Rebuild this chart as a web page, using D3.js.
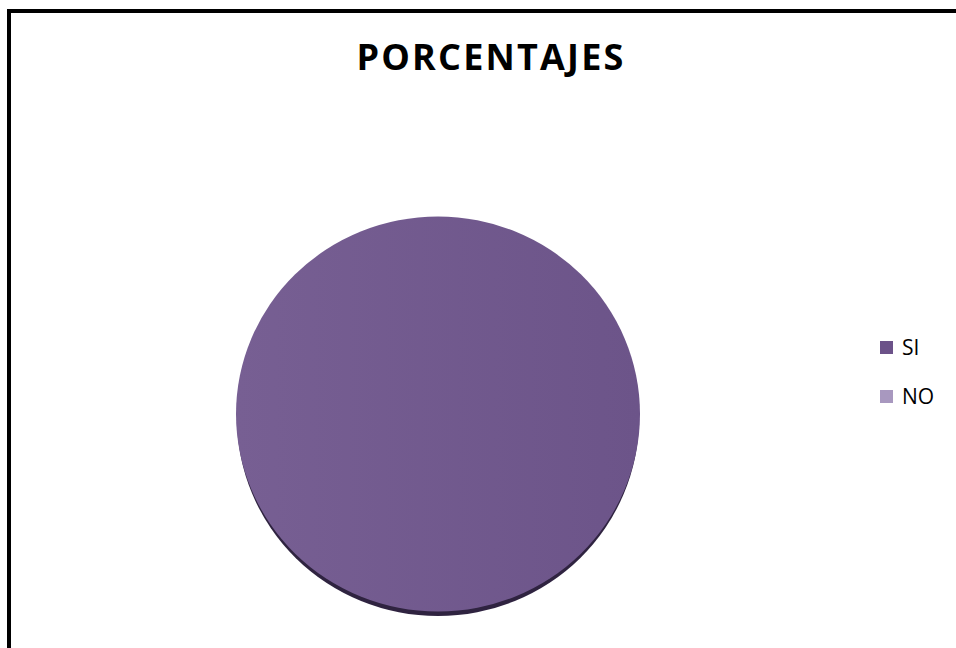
<!DOCTYPE html>
<html>
<head>
<meta charset="utf-8">
<script src="https://cdn.jsdelivr.net/npm/d3@7"></script>
<style>
html,body{margin:0;padding:0;background:#fff;overflow:hidden;}
svg{display:block;}
</style>
</head>
<body>
<svg id="chart" width="956" height="648"></svg>
<script>
const title = "PORCENTAJES";
const categories = ["SI", "NO"];
const values = [100, 0];
const colors = ["#735b8f", "#a898bf"];
const legendColors = ["#6c5289", "#a898bf"];

const svg = d3.select("#chart");
const FONT = "'Open Sans', Lato, sans-serif";

// outer border
svg.append("rect").attr("x", 9).attr("y", 11).attr("width", 1000).attr("height", 700)
  .attr("fill", "#fff").attr("stroke", "#000").attr("stroke-width", 4);

// title
svg.append("text").attr("x", 491).attr("y", 70)
  .attr("text-anchor", "middle")
  .style("font-family", FONT)
  .style("font-weight", "bold").style("font-size", "36px")
  .style("letter-spacing", "2.2px").attr("fill", "#000")
  .text(title);

// pie
const cx = 438, cy = 414, rx = 202, ry = 197.5;
const defs = svg.append("defs");
const grad = defs.append("linearGradient").attr("id", "pg")
  .attr("gradientUnits", "userSpaceOnUse")
  .attr("x1", -1).attr("x2", 1).attr("y1", 0).attr("y2", 0);
grad.append("stop").attr("offset", "0%").attr("stop-color", "#775f93");
grad.append("stop").attr("offset", "100%").attr("stop-color", "#6c5489");

const pie = d3.pie().sort(null).value(d => d)(values);
const arc = d3.arc().innerRadius(0).outerRadius(1);

// 3D edge / shadow (drawn first, beneath)
const gs = svg.append("g").attr("transform", `translate(${cx},${cy + 4.5}) scale(${rx - 1},${ry})`);
gs.selectAll("path").data(pie).enter().append("path")
  .attr("d", arc).attr("fill", "#2f2340");
const g = svg.append("g").attr("transform", `translate(${cx},${cy}) scale(${rx},${ry})`);
g.selectAll("path").data(pie).enter().append("path")
  .attr("d", arc)
  .attr("fill", (d, i) => i === 0 ? "url(#pg)" : colors[i]);

// legend
const leg = svg.append("g");
categories.forEach((c, i) => {
  const y = 341 + i * 49;
  leg.append("rect").attr("x", 880).attr("y", y).attr("width", 13).attr("height", 13)
    .attr("fill", legendColors[i]);
  leg.append("text").attr("x", 902).attr("y", y + 14)
    .style("font-family", FONT)
    .style("font-size", "21px").attr("fill", "#000").text(c);
});
</script>
</body>
</html>
